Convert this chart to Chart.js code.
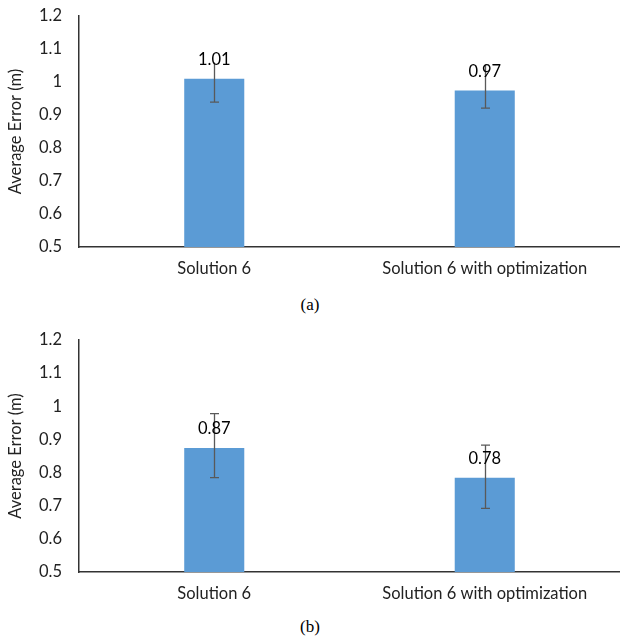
<!DOCTYPE html>
<html>
<head>
<meta charset="utf-8">
<script src="https://cdn.jsdelivr.net/npm/chart.js@4/dist/chart.umd.min.js"></script>
<style>
  body { margin: 0; background: #fff; }
  .wrap { position: relative; width: 620px; height: 642px; }
  canvas { position: absolute; left: 0; }
  .cap { position: absolute; width: 620px; text-align: center; font-family: "Liberation Serif", serif; font-size: 17px; color: #000; }
</style>
</head>
<body>
<div class="wrap">
  <canvas id="chart-a" style="top:0"></canvas>
  <div class="cap" style="top:295px">(a)</div>
  <canvas id="chart-b" style="top:320px"></canvas>
  <div class="cap" style="top:617px">(b)</div>
</div>
<script>
// data
const categories = ['Solution 6', 'Solution 6 with optimization'];
const yTicks = [0.5, 0.6, 0.7, 0.8, 0.9, 1, 1.1, 1.2];

const valuesA = [1.01, 0.974];
const errMinusA = [0.071, 0.053];
const errPlusA = [0.048, 0.078];

const valuesB = [0.874, 0.784];
const errMinusB = [0.089, 0.092];
const errPlusB = [0.104, 0.099];

const FONT = 'Lato';
const FONT_SIZE = 16.5;

// draws error bars and value labels above each bar
const errorBarsPlugin = {
    id: 'errorBars',
    afterDatasetsDraw(chart, args, opts) {
        const ctx = chart.ctx;
        const meta = chart.getDatasetMeta(0);
        const y = chart.scales.y;
        const values = chart.data.datasets[0].data;
        ctx.save();
        meta.data.forEach((bar, i) => {
            const x = Math.round(bar.x) + 0.5;
            const yLow = y.getPixelForValue(values[i] - opts.minus[i]);
            const yHigh = y.getPixelForValue(values[i] + opts.plus[i]);
            ctx.strokeStyle = '#595959';
            ctx.lineWidth = 1.3;
            ctx.beginPath();
            ctx.moveTo(x, yLow);
            ctx.lineTo(x, yHigh);
            ctx.moveTo(x - 4.5, yLow);
            ctx.lineTo(x + 4.5, yLow);
            if (opts.topCap) {
                ctx.moveTo(x - 4.5, yHigh);
                ctx.lineTo(x + 4.5, yHigh);
            }
            ctx.stroke();

            ctx.fillStyle = '#000';
            ctx.font = `${FONT_SIZE}px ${FONT}`;
            ctx.textAlign = 'center';
            ctx.textBaseline = 'middle';
            ctx.fillText(values[i].toFixed(2), bar.x, bar.y - 19);
        });
        ctx.restore();
    }
};

function makeChart(id, height, plotTop, plotBottom, values, minus, plus, topCap) {
    const canvas = document.getElementById(id);
    canvas.width = 620;
    canvas.height = height;
    return new Chart(canvas, {
        type: 'bar',
        data: {
            labels: categories,
            datasets: [{
                data: values,
                backgroundColor: '#5B9BD5',
                borderWidth: 0,
                categoryPercentage: 1,
                barPercentage: 0.222
            }]
        },
        options: {
            responsive: false,
            animation: false,
            layout: { padding: { top: plotTop, right: 0, bottom: height - plotBottom - 44, left: 0 } },
            plugins: {
                legend: { display: false },
                tooltip: { enabled: false },
                errorBars: { minus, plus, topCap }
            },
            scales: {
                x: {
                    grid: { display: false, drawTicks: false },
                    border: { display: true, color: '#333', width: 1.5 },
                    ticks: { color: '#222', font: { family: FONT, size: FONT_SIZE }, padding: 12 },
                    afterFit(scale) {
                        scale.height = 44;
                        scale.paddingLeft = 0;
                        scale.paddingRight = 0;
                    }
                },
                y: {
                    min: 0.5,
                    max: 1.2,
                    afterBuildTicks(scale) { scale.ticks = yTicks.map(v => ({ value: v })); },
                    grid: { display: false, drawTicks: false },
                    border: { display: true, color: '#333', width: 1.5 },
                    ticks: {
                        color: '#222',
                        font: { family: FONT, size: FONT_SIZE },
                        padding: 17,
                        callback: v => String(+v.toFixed(1))
                    },
                    title: {
                        display: true,
                        text: 'Average Error (m)',
                        color: '#222',
                        font: { family: FONT, size: FONT_SIZE },
                        padding: { top: 6, bottom: 0 }
                    },
                    afterFit(scale) {
                        scale.width = 79;
                        scale.paddingTop = 0;
                        scale.paddingBottom = 0;
                    }
                }
            }
        },
        plugins: [errorBarsPlugin]
    });
}

makeChart('chart-a', 295, 16, 247, valuesA, errMinusA, errPlusA, false);
makeChart('chart-b', 297, 20, 252, valuesB, errMinusB, errPlusB, true);
</script>
</body>
</html>
